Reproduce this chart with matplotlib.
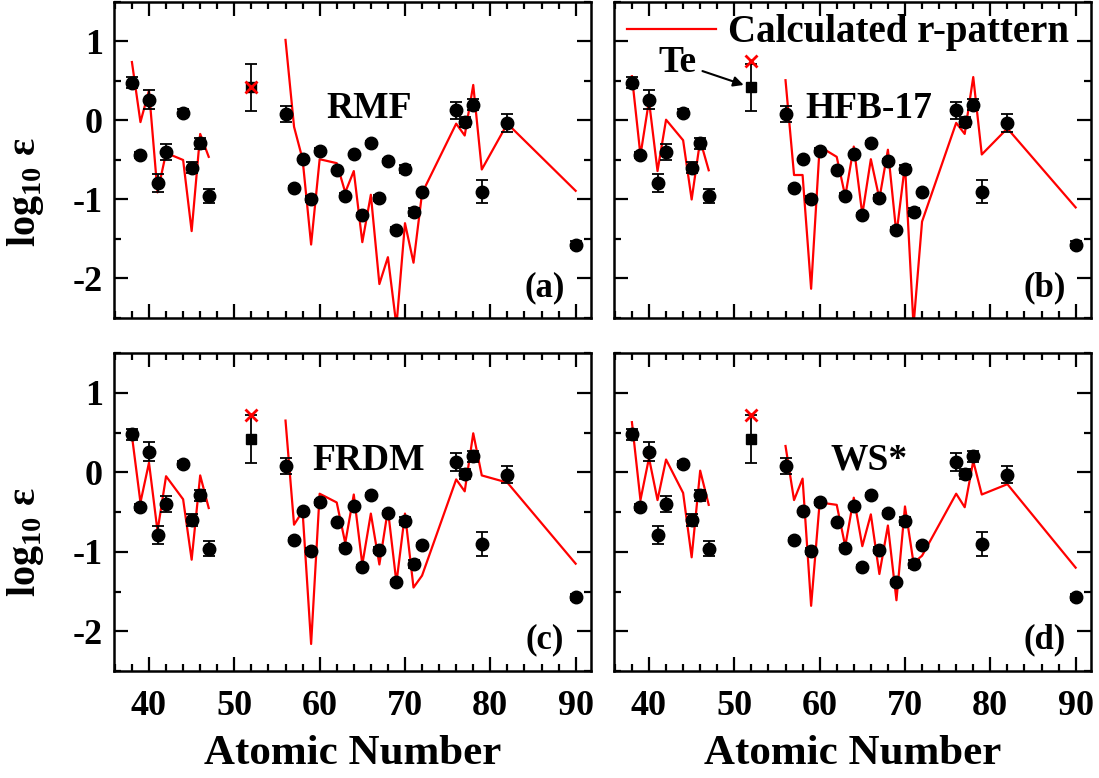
import numpy as np
import matplotlib
matplotlib.use("Agg")
import matplotlib.pyplot as plt
from matplotlib.ticker import MultipleLocator

plt.rcParams['font.family'] = ['Liberation Serif', 'DejaVu Serif']
plt.rcParams['font.weight'] = 'bold'
plt.rcParams['axes.labelweight'] = 'bold'
plt.rcParams['mathtext.fontset'] = 'custom'
plt.rcParams['mathtext.rm'] = 'Liberation Serif:bold'
plt.rcParams['mathtext.bf'] = 'Liberation Serif:bold'
plt.rcParams['axes.unicode_minus'] = False

# observed abundances (same in every panel)
Z_obs = [38, 39, 40, 41, 42, 44, 45, 46, 47,
         56, 57, 58, 59, 60, 62, 63, 64, 65, 66, 67, 68, 69, 70, 71, 72,
         76, 77, 78, 79, 82, 90]
y_obs = [0.48, -0.44, 0.26, -0.79, -0.40, 0.10, -0.60, -0.29, -0.96,
         0.08, -0.85, -0.49, -0.99, -0.38, -0.63, -0.95, -0.43, -1.19, -0.28,
         -0.98, -0.51, -1.38, -0.61, -1.16, -0.91,
         0.13, -0.02, 0.20, -0.90, -0.03, -1.57]
err_obs = [0.07, 0.04, 0.12, 0.11, 0.10, 0.04, 0.07, 0.07, 0.09,
           0.10, 0.02, 0.02, 0.04, 0.03, 0.02, 0.03, 0.02, 0.02, 0.02,
           0.04, 0.02, 0.03, 0.05, 0.05, 0.02,
           0.11, 0.06, 0.07, 0.15, 0.11, 0.04]

# Te
Z_te = 52
y_te = 0.42
err_te = 0.30

# calculated r-pattern, Z from 38..47 then 56..90 (same Z list as observed)
calc_rmf = [0.74, -0.02, 0.38, -0.91, -0.41, -0.50, -1.40, -0.17, -0.46,
            1.02, -0.08, -0.49, -1.57, -0.49, -0.54, -0.91, -0.64, -1.54, -0.94,
            -2.07, -1.73, -2.60, -1.30, -1.80, -0.92,
            -0.04, -0.19, 0.45, -0.62, -0.04, -0.89]
calc_hfb = [0.56, -0.44, 0.25, -0.64, 0.01, -0.25, -1.00, -0.25, -0.63,
            0.51, -0.69, -0.69, -2.13, -0.33, -0.46, -0.96, -0.33, -1.19, -0.49,
            -0.99, -0.37, -1.44, -0.56, -2.60, -1.28,
            -0.03, -0.17, 0.55, -0.43, -0.10, -1.10]
calc_frdm = [0.46, -0.38, 0.12, -0.74, -0.05, -0.34, -1.10, -0.04, -0.45,
             0.65, -0.66, -0.49, -2.16, -0.27, -0.38, -0.89, -0.28, -1.16, -0.52,
             -1.16, -0.47, -1.39, -0.52, -1.45, -1.30,
             -0.09, -0.24, 0.49, -0.04, -0.13, -1.15]
calc_ws = [0.63, -0.35, 0.18, -0.35, 0.16, -0.26, -1.07, 0.02, -0.41,
           0.33, -0.35, -0.08, -1.68, -0.38, -0.41, -0.93, -0.32, -0.93, -0.53,
           -1.28, -0.67, -1.61, -0.43, -1.14, -1.05,
           -0.27, -0.44, 0.14, -0.28, -0.15, -1.20]
calc_te = [0.43, 0.75, 0.72, 0.72]

models = ['RMF', 'HFB-17', 'FRDM', 'WS*']
letters = ['(a)', '(b)', '(c)', '(d)']
calcs = [calc_rmf, calc_hfb, calc_frdm, calc_ws]

fig = plt.figure(figsize=(10.99, 7.78), dpi=100)
W, H = 1099.0, 778.0
boxes = [(114, 2, 591, 318), (614, 2, 1091, 318),
         (114, 353, 591, 671), (614, 353, 1091, 671)]

Zl = np.array(Z_obs, dtype=float)
for k in range(4):
    x0, y0, x1, y1 = boxes[k]
    ax = fig.add_axes([x0 / W, 1 - y1 / H, (x1 - x0) / W, (y1 - y0) / H])
    # calculated line with a gap between 47 and 56
    zc = np.insert(Zl, 9, np.nan)
    yc = np.insert(np.array(calcs[k]), 9, np.nan)
    line, = ax.plot(zc, yc, color='red', lw=1.6, label='Calculated r-pattern', zorder=2)
    ax.errorbar(Z_obs, y_obs, yerr=err_obs, fmt='o', color='black', ms=9,
                capsize=4.5, elinewidth=1.3, capthick=1.3, zorder=3)
    ax.errorbar([Z_te], [y_te], yerr=[err_te], fmt='s', color='black', ms=7.5,
                capsize=4.5, elinewidth=1.3, capthick=1.3, zorder=3)
    ax.plot([Z_te], [calc_te[k]], 'x', color='red', ms=9, mew=2, zorder=4)

    ax.set_xlim(35.9, 91.8)
    ax.set_ylim(-2.5, 1.5)
    ax.xaxis.set_major_locator(MultipleLocator(10))
    ax.xaxis.set_minor_locator(MultipleLocator(2))
    ax.yaxis.set_major_locator(MultipleLocator(1))
    ax.yaxis.set_minor_locator(MultipleLocator(0.5))
    ax.tick_params(which='both', direction='in', top=True, right=True, width=1.6)
    ax.tick_params(which='major', length=10, labelsize=26)
    ax.tick_params(axis='x', which='major', pad=14)
    ax.tick_params(axis='y', which='major', pad=8)
    ax.tick_params(which='minor', length=5)
    for s in ax.spines.values():
        s.set_linewidth(1.8)
    if k < 2:
        ax.set_xticklabels([])
    else:
        ax.set_xlabel('Atomic Number', fontsize=31, fontweight='bold', labelpad=8)
    if k % 2 == 1:
        ax.set_yticklabels([])

    ax.text(65.8, 0.03, models[k], fontsize=27, ha='center', va='baseline')
    ax.text(86.4, -2.22, letters[k], fontsize=25, ha='center', va='baseline')

    if k == 1:
        ax.legend(handles=[line], loc='center left', bbox_to_anchor=(0.027, 0.902),
                  frameon=False, fontsize=28, handlelength=2.3, handletextpad=0.3,
                  borderpad=0, borderaxespad=0)
        ax.annotate('Te', xy=(51.1, 0.45), xytext=(43.4, 0.73), fontsize=27,
                    ha='center', va='center',
                    arrowprops=dict(arrowstyle='-|>', color='black', lw=1.5,
                                    mutation_scale=15, shrinkA=2, shrinkB=0))

fig.text(25 / W, 1 - 192 / H, r'log$_{\mathbf{10}}$ ε', rotation=90, fontsize=29,
         ha='center', va='center')
fig.text(25 / W, 1 - 542 / H, r'log$_{\mathbf{10}}$ ε', rotation=90, fontsize=29,
         ha='center', va='center')

fig.savefig('out.png', dpi=100)
